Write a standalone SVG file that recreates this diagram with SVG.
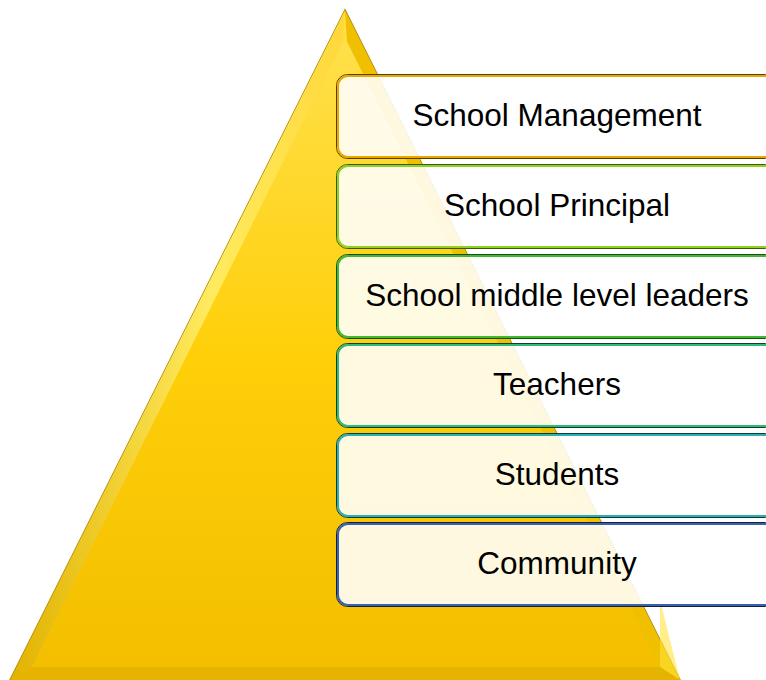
<svg xmlns="http://www.w3.org/2000/svg" width="766" height="680" viewBox="0 0 766 680">
<defs>
<linearGradient id="tri" x1="0" y1="0" x2="0" y2="1">
<stop offset="0" stop-color="#ffe04a"/>
<stop offset="0.5" stop-color="#ffcf0a"/>
<stop offset="1" stop-color="#f3bf00"/>
</linearGradient>
<linearGradient id="lface" x1="0" y1="0" x2="1" y2="0">
<stop offset="0" stop-color="#e2b200"/>
<stop offset="0.6" stop-color="#ffeb60"/>
<stop offset="1" stop-color="#ffd83a"/>
</linearGradient>
<style>
.box{fill:#ffffff;fill-opacity:0.88}
.lbl{font-family:"Liberation Sans",Arial,sans-serif;font-size:31.5px;fill:#000;text-anchor:middle}
</style>
</defs>
<g id="pyramid">
<polygon points="345,10 10,680 680,680" fill="url(#tri)" stroke="#a8860a" stroke-width="1.5"/>
<polygon points="345,10 10,680 32,667 343,42" fill="url(#lface)"/>
<polygon points="345,10 680,680 660,667 347,42" fill="#f0c000"/>
<polygon points="660,667 680,680 660,600" fill="#ffe23a" opacity="0.6"/>
<polygon points="10,680 680,680 660,667 32,667" fill="#e6b400"/>
<polygon points="343,42 32,667 660,667 347,42" fill="url(#tri)"/>
</g>
<g id="n1">
<rect x="336.5" y="74.5" width="440" height="84" rx="11" fill="none" stroke="#5a4000" stroke-width="1"/>
<rect class="box" x="338" y="76" width="437" height="81" rx="10" stroke="#e8a800" stroke-width="2"/>
<text class="lbl" x="557" y="126">School Management</text>
</g>
<g id="n2">
<rect x="336.5" y="164.5" width="440" height="84" rx="11" fill="none" stroke="#3a5a10" stroke-width="1"/>
<rect class="box" x="338" y="166" width="437" height="81" rx="10" stroke="#8fd020" stroke-width="2"/>
<text class="lbl" x="557" y="216">School Principal</text>
</g>
<g id="n3">
<rect x="336.5" y="254.5" width="440" height="84" rx="11" fill="none" stroke="#1a4a1a" stroke-width="1"/>
<rect class="box" x="338" y="256" width="437" height="81" rx="10" stroke="#3cbb2c" stroke-width="2"/>
<text class="lbl" x="557" y="306">School middle level leaders</text>
</g>
<g id="n4">
<rect x="336.5" y="343.5" width="440" height="84" rx="11" fill="none" stroke="#143a2a" stroke-width="1"/>
<rect class="box" x="338" y="345" width="437" height="81" rx="10" stroke="#2cbb78" stroke-width="2"/>
<text class="lbl" x="557" y="395">Teachers</text>
</g>
<g id="n5">
<rect x="336.5" y="433.5" width="440" height="84" rx="11" fill="none" stroke="#103a3a" stroke-width="1"/>
<rect class="box" x="338" y="435" width="437" height="81" rx="10" stroke="#2ab0b0" stroke-width="2"/>
<text class="lbl" x="557" y="485">Students</text>
</g>
<g id="n6">
<rect x="336.5" y="522.5" width="440" height="84" rx="11" fill="none" stroke="#102040" stroke-width="1"/>
<rect class="box" x="338" y="524" width="437" height="81" rx="10" stroke="#3a60b0" stroke-width="2"/>
<text class="lbl" x="557" y="574">Community</text>
</g>
<g id="connectors"/>
</svg>
